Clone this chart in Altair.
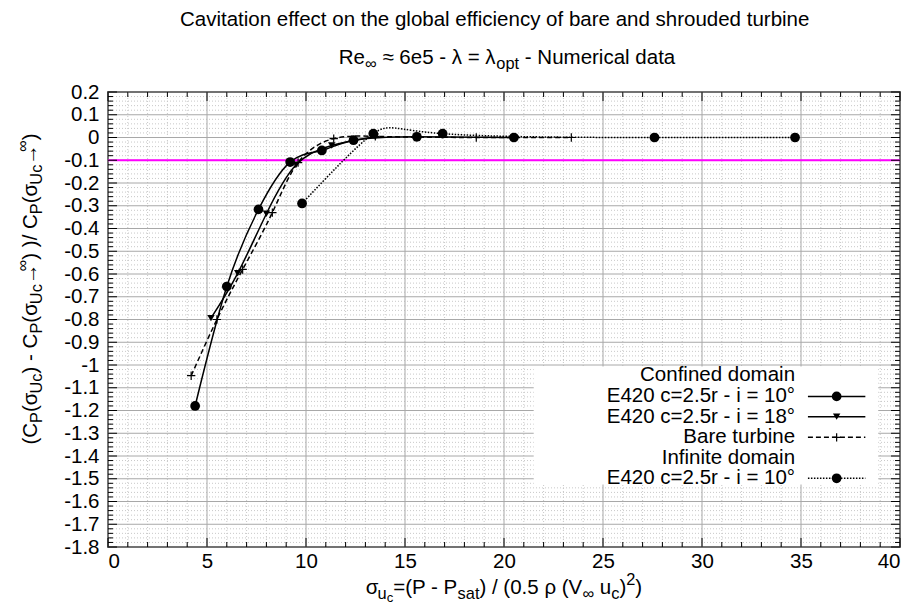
import altair as alt
import pandas as pd

# ---------------- data ----------------
conf10_x = [4.4, 6.0, 7.6, 9.2, 10.8, 12.4, 15.6, 20.5]
conf10_y = [-1.18, -0.655, -0.316, -0.108, -0.057, -0.012, 0.003, 0.0]

conf18_x = [5.2, 6.55, 8.0, 9.5, 11.3, 13.5]
conf18_y = [-0.794, -0.597, -0.335, -0.12, -0.035, 0.003]

bare_x = [4.2, 5.5, 6.8, 8.3, 9.6, 11.4, 13.5, 15.5, 18.6, 23.4]
bare_y = [-1.047, -0.80, -0.58, -0.33, -0.11, -0.005, 0.005, 0.002, 0.0, 0.0]

inf10_x = [9.8, 13.4, 16.9, 27.6, 34.7]
inf10_y = [-0.29, 0.017, 0.017, 0.0, 0.0]

threshold_y = [-0.1]

legend_labels = ["Confined domain", "E420 c=2.5r - i = 10°", "E420 c=2.5r - i = 18°",
                 "Bare turbine", "Infinite domain", "E420 c=2.5r - i = 10°"]

x_ticks_major = list(range(0, 41, 5))
x_ticks_minor = [i for i in range(0, 41) if i % 5]
y_ticks_major = [round(-1.8 + 0.1 * i, 2) for i in range(21)]
y_ticks_minor = [round(-1.8 + 0.02 * i, 2) for i in range(101) if i % 5]

# ---------------- layout ----------------
W, H = 792, 455
OX, OY = 108, 92          # plot origin on the page
FONT = "Liberation Sans"
FS = 20.5

xs = alt.Scale(domain=[0, 40], nice=False, zero=False)
ys = alt.Scale(domain=[-1.8, 0.2], nice=False, zero=False)
xaxis = alt.Axis(values=x_ticks_major, labelFontSize=FS, labelFont=FONT, labelColor="black",
                 grid=False, ticks=False, domain=False, title=None, labelPadding=4,
                 labelFlush=True)
yaxis = alt.Axis(values=y_ticks_major, labelFontSize=FS, labelFont=FONT, labelColor="black",
                 grid=False, ticks=False, domain=False, title=None, labelPadding=9,
                 labelExpr="toString(datum.value)")


def X(f="x"):
    return alt.X(f"{f}:Q", scale=xs, axis=xaxis)


def Y(f="y"):
    return alt.Y(f"{f}:Q", scale=ys, axis=yaxis)


layers = []

# grid: minor dotted, major solid
layers.append(alt.Chart(pd.DataFrame({"x": x_ticks_minor})).mark_rule(
    color="#c8c8c8", strokeDash=[1, 2], strokeWidth=1).encode(x=X()))
layers.append(alt.Chart(pd.DataFrame({"y": y_ticks_minor})).mark_rule(
    color="#c8c8c8", strokeDash=[1, 2], strokeWidth=1).encode(y=Y()))
layers.append(alt.Chart(pd.DataFrame({"x": x_ticks_major})).mark_rule(
    color="#a8a8a8", strokeWidth=1).encode(x=X()))
layers.append(alt.Chart(pd.DataFrame({"y": y_ticks_major})).mark_rule(
    color="#a8a8a8", strokeWidth=1).encode(y=Y()))

# magenta threshold
layers.append(alt.Chart(pd.DataFrame({"y": threshold_y})).mark_rule(
    color="#ff00ff", strokeWidth=2).encode(y=Y()))

# legend box (white) in data coordinates
leg_box = pd.DataFrame({"x": [21.5], "x2": [38.9], "y": [-1.007], "y2": [-1.525]})
layers.append(alt.Chart(leg_box).mark_rect(fill="white").encode(
    x=X(), x2="x2:Q", y=Y(), y2="y2:Q"))

# series
series = [
    ("conf10", conf10_x, conf10_y, None, "circle"),
    ("conf18", conf18_x, conf18_y, None, "triangle-down"),
    ("bare", bare_x, bare_y, [5, 3], "plus"),
    ("inf10", inf10_x, inf10_y, [1.5, 1.5], "circle"),
]
PLUS = "M-1,0L1,0M0,-1L0,1"


def marker(shape):
    if shape == "circle":
        return dict(shape="circle", filled=True, size=95, color="black")
    if shape == "triangle-down":
        return dict(shape="triangle-down", filled=True, size=55, color="black")
    return dict(shape=PLUS, filled=False, size=70, stroke="black", strokeWidth=1.2)


for name, sx, sy, dash, shape in series:
    df = pd.DataFrame({"x": sx, "y": sy})
    lk = dict(color="black", strokeWidth=1.5, interpolate="natural")
    if dash:
        lk["strokeDash"] = dash
    layers.append(alt.Chart(df).mark_line(**lk).encode(x=X(), y=Y(), order="x:Q"))
for name, sx, sy, dash, shape in series:
    df = pd.DataFrame({"x": sx, "y": sy})
    layers.append(alt.Chart(df).mark_point(opacity=1, **marker(shape)).encode(x=X(), y=Y()))

# inward ticks on four sides
for vals, ln in ((x_ticks_major, 9), (x_ticks_minor, 5)):
    d = pd.DataFrame({"x": vals})
    layers.append(alt.Chart(d).mark_rule(color="black", strokeWidth=1).encode(
        x=X(), y=alt.value(H), y2=alt.value(H - ln)))
    layers.append(alt.Chart(d).mark_rule(color="black", strokeWidth=1).encode(
        x=X(), y=alt.value(0), y2=alt.value(ln)))
for vals, ln in ((y_ticks_major, 9), (y_ticks_minor, 5)):
    d = pd.DataFrame({"y": vals})
    layers.append(alt.Chart(d).mark_rule(color="black", strokeWidth=1).encode(
        y=Y(), x=alt.value(0), x2=alt.value(ln)))
    layers.append(alt.Chart(d).mark_rule(color="black", strokeWidth=1).encode(
        y=Y(), x=alt.value(W), x2=alt.value(W - ln)))

# legend contents (in data coordinates)
row_y = [-1.043, -1.138, -1.227, -1.318, -1.407, -1.498]
leg_txt = pd.DataFrame({"label": legend_labels, "x": [34.7] * 6, "y": row_y})
layers.append(alt.Chart(leg_txt).mark_text(align="right", baseline="middle", font=FONT,
                                           fontSize=FS, color="black").encode(
    x=X(), y=Y(), text="label:N"))
sample_rows = [(1, series[0]), (2, series[1]), (3, series[2]), (5, series[3])]
for r, (name, sx, sy, dash, shape) in sample_rows:
    d = pd.DataFrame({"x": [35.35], "x2": [38.25], "y": [row_y[r]]})
    rk = dict(color="black", strokeWidth=1.5)
    if dash:
        rk["strokeDash"] = dash
    layers.append(alt.Chart(d).mark_rule(**rk).encode(x=X(), x2="x2:Q", y=Y()))
    dm = pd.DataFrame({"x": [36.8], "y": [row_y[r]]})
    layers.append(alt.Chart(dm).mark_point(opacity=1, **marker(shape)).encode(x=X(), y=Y()))

# ---------------- rich text titles (sub/superscripts) ----------------
AW = {' ': 278, '(': 333, ')': 333, '-': 333, '.': 278, '/': 278, '=': 584,
      'C': 722, 'E': 667, 'N': 722, 'P': 667, 'R': 722, 'U': 722, 'V': 667,
      'a': 556, 'b': 556, 'c': 500, 'd': 556, 'e': 556, 'f': 278, 'g': 556,
      'h': 556, 'i': 222, 'l': 222, 'm': 833, 'n': 556, 'o': 556, 'p': 556,
      'r': 333, 's': 500, 't': 278, 'u': 556, 'v': 500, 'y': 500,
      'σ': 571, 'λ': 500, 'ρ': 577, '∞': 713, '≈': 584, '→': 620}
LEVEL = {"n": (1.0, 0.0), "sub": (0.8, 0.26), "sup": (0.8, -0.42), "subsub": (0.64, 0.40)}


def tw(s, fs):
    return sum(AW.get(ch, 556) for ch in s) / 1000.0 * fs


def lay(pieces, fs):
    # leading/trailing blanks are not drawn (SVG drops them); their width is kept
    out, pos = [], 0.0
    for txt, lv in pieces:
        sc, off = LEVEL[lv]
        f = sc * fs
        lead = len(txt) - len(txt.lstrip(" "))
        core = txt.strip(" ")
        out.append((core, pos + tw(" " * lead, f), off * fs, f))
        pos += tw(txt, f)
    return out, pos


def horiz(pieces, cx, base, fs):
    out, tot = lay(pieces, fs)
    return [dict(t=t, px=cx - tot / 2 + p - OX, py=base + o - OY, fs=s) for t, p, o, s in out]


def vert(pieces, bx, cy, fs):
    out, tot = lay(pieces, fs)
    return [dict(t=t, px=bx + o - OX, py=cy + tot / 2 - p - OY, fs=s) for t, p, o, s in out]


title_rows = []
title_rows += horiz([("Cavitation effect on the global efficiency of bare and shrouded turbine", "n")],
                    495, 26, FS)
title_rows += horiz([("Re", "n"), ("∞", "sub"), (" ≈ 6e5 - λ = λ", "n"), ("opt", "sub"),
                     (" - Numerical data", "n")], 507, 64, FS)
title_rows += horiz([("σ", "n"), ("u", "sub"), ("c", "subsub"), ("=(P - P", "n"), ("sat", "sub"),
                     (") / (0.5 ρ (V", "n"), ("∞", "sub"), (" u", "n"), ("c", "sub"), (")", "n"),
                     ("2", "sup"), (")", "n")], 504, 594, FS)
yt = [("(C", "n"), ("P", "sub"), ("(σ", "n"), ("Uc", "sub"), (") - C", "n"), ("P", "sub"),
      ("(σ", "n"), ("Uc", "sub"), ("→", "n"), ("∞", "sup"), (") )/ C", "n"), ("P", "sub"),
      ("(σ", "n"), ("Uc", "sub"), ("→", "n"), ("∞", "sup"), (")", "n")]
vrows = vert(yt, 37, 289, FS)

layers.append(alt.Chart(pd.DataFrame(title_rows)).mark_text(
    align="left", baseline="alphabetic", font=FONT, color="black").encode(
    x=alt.X("px:Q", scale=None), y=alt.Y("py:Q", scale=None),
    size=alt.Size("fs:Q", scale=None, legend=None), text="t:N"))
layers.append(alt.Chart(pd.DataFrame(vrows)).mark_text(
    align="left", baseline="alphabetic", font=FONT, color="black", angle=270).encode(
    x=alt.X("px:Q", scale=None), y=alt.Y("py:Q", scale=None),
    size=alt.Size("fs:Q", scale=None, legend=None), text="t:N"))

chart = alt.layer(*layers).properties(
    width=W, height=H,
    autosize=alt.AutoSizeParams(type="none"),
    padding={"left": OX - 8, "top": OY - 8, "right": 8, "bottom": 57},
    background="white",
).configure_view(stroke="black", strokeWidth=1.5)

chart.save("out.html", embed_options={"renderer": "svg", "actions": False})
